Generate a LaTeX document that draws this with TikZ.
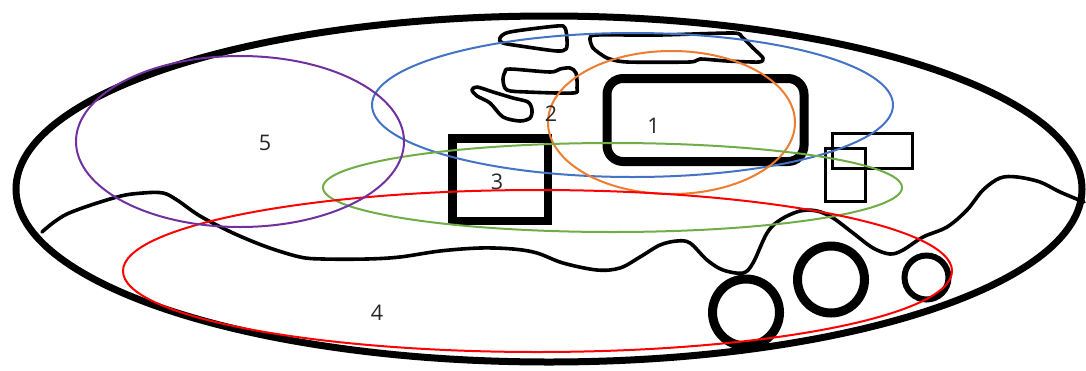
\documentclass[tikz,border=0pt]{standalone}
\usepackage{fontspec}
\setmainfont{Open Sans}
\definecolor{cblue}{HTML}{4472C4}
\definecolor{corange}{HTML}{ED7D31}
\definecolor{cgreen}{HTML}{70AD47}
\definecolor{cred}{HTML}{FF0000}
\definecolor{cpurple}{HTML}{7030A0}
\begin{document}
\begin{tikzpicture}[x=1pt,y=-1pt,
  region/.style={line width=2pt},
  ink/.style={line width=3.6pt, line join=round, line cap=round},
  boxline/.style={line width=3.2pt},
  ring/.style={line width=9pt},
  numtext/.style={font=\fontsize{21.5}{24}\selectfont, inner sep=0pt, text=black!85}]
\useasboundingbox (0,0) rectangle (1086,370);

% outer boundary
\draw[line width=7pt] (549,189) ellipse [x radius=533, y radius=173];

% wavy contour across the lower half
\draw[ink] plot[smooth, tension=0.55] coordinates {
  (42,232) (67,214) (117,197) (143,193) (163,193) (177,200) (200,216)
  (233,233) (267,247) (300,257) (323,259) (367,259) (400,257) (440,251)
  (480,248) (513,249) (537,253) (563,263) (597,270) (620,268) (640,257)
  (660,245) (677,241) (690,243) (707,260) (723,270) (743,273) (753,263)
  (767,233) (780,220) (800,211) (817,211) (833,218) (853,233) (873,248)
  (890,254) (903,250) (923,237) (947,227) (967,210) (983,190) (1000,178)
  (1017,177) (1040,182) (1060,192) (1084,202)};

% irregular outlines near the top
\draw[ink] plot[smooth cycle, tension=0.5] coordinates {
  (500,38) (510,32) (557,26) (565,28) (567,40) (566,49) (557,51) (527,47) (503,43)};
\draw[ink] plot[smooth cycle, tension=0.4] coordinates {
  (590,38) (597,35) (660,35) (733,33) (742,37) (753,48) (763,58) (759,62)
  (727,61) (700,59) (690,62) (627,62) (607,58) (593,48)};
\draw[ink] plot[smooth cycle, tension=0.5] coordinates {
  (505,72) (510,69) (550,72) (560,69) (570,68) (576,73) (577,88) (573,93)
  (527,92) (507,90) (503,80)};
\draw[ink] plot[smooth cycle, tension=0.5] coordinates {
  (472,90) (477,87) (493,92) (513,98) (528,102) (532,110) (530,118) (520,121)
  (503,117) (490,103) (477,96)};

% rectangles
\draw[line width=9pt, rounded corners=16pt] (607,78.5) rectangle (804,161.5);
\draw[line width=8.5pt] (452.5,138.5) rectangle (548,221);
\draw[boxline] (832.5,133.5) rectangle (912.5,168.5);
\draw[boxline] (825.5,148.5) rectangle (865.5,201.5);

% rings
\draw[ring] (746,312.5) circle [radius=33.5];
\draw[ring] (831,279.5) circle [radius=33.5];
\draw[line width=6pt] (926.5,277.5) circle [radius=22];

% coloured regions
\draw[region, cblue]   (632.5,105)   ellipse [x radius=260.5, y radius=72];
\draw[region, corange] (671.5,122.5) ellipse [x radius=123.5, y radius=71.5];
\draw[region, cgreen]  (612.5,187.5) ellipse [x radius=289.5, y radius=44.5];
\draw[region, cred]    (537.5,271)   ellipse [x radius=414.5, y radius=81];
\draw[region, cpurple] (240,141.5)   ellipse [x radius=164, y radius=85.5];

% region numbers
\node[numtext] (n1) at (653.5,126) {1};
\node[numtext] (n2) at (551,113.5) {2};
\node[numtext] (n3) at (497,181.5) {3};
\node[numtext] (n4) at (377,313) {4};
\node[numtext] (n5) at (265,143) {5};
\end{tikzpicture}
\end{document}
